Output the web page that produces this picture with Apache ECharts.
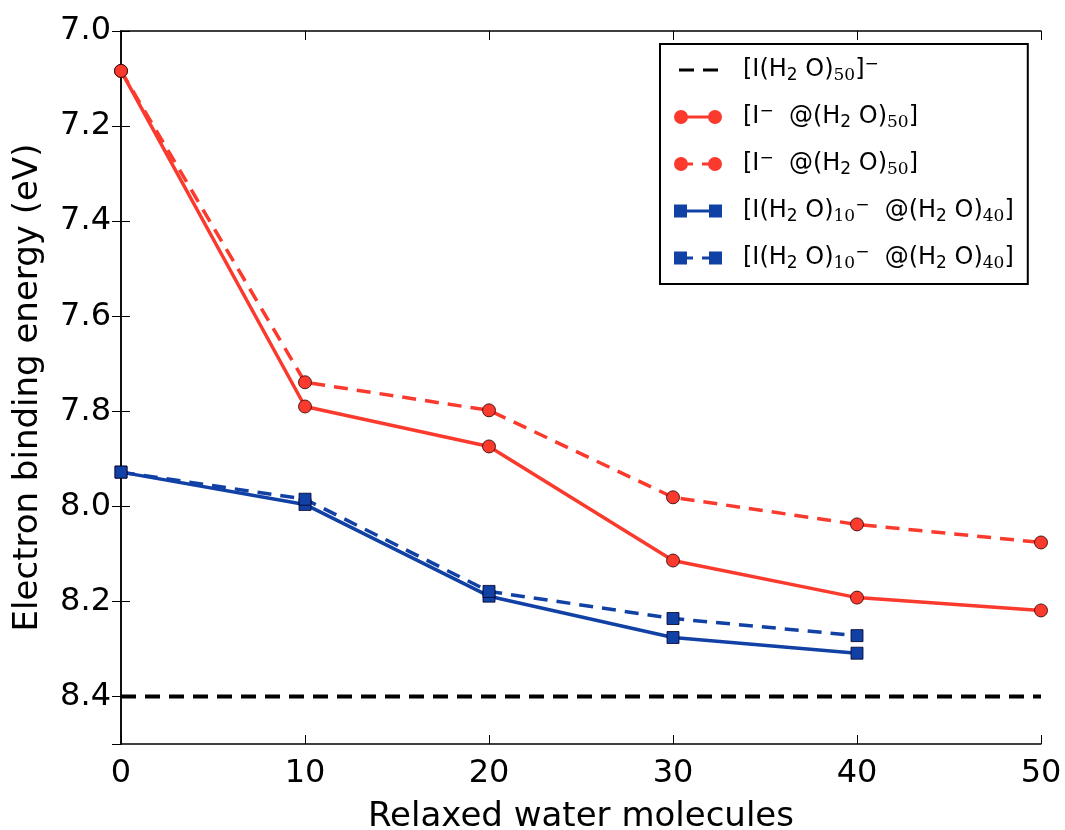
<!DOCTYPE html>
<html>
<head>
<meta charset="utf-8">
<script src="https://cdn.jsdelivr.net/npm/echarts@6/dist/echarts.min.js"></script>
<style>
  html, body { margin: 0; padding: 0; background: #fff; }
  #chart { width: 1065px; height: 830px; }
</style>
</head>
<body>
<div id="chart"></div>
<script>
// relaxed water molecules
const waterX = [0, 10, 20, 30, 40, 50]
const waterXBlue = [0, 10, 20, 30, 40]
const refX = [0, 50]

// electron binding energies (eV)
const refY = [8.4, 8.4]
const redSolid = [7.084, 7.79, 7.874, 8.114, 8.192, 8.219]
const redDashed = [7.084, 7.739, 7.798, 7.981, 8.038, 8.076]
const blueSolid = [7.928, 7.996, 8.189, 8.276, 8.309]
const blueDashed = [7.928, 7.985, 8.179, 8.236, 8.272]

const seriesNames = ['ref', 'redSolid', 'redDashed', 'blueSolid', 'blueDashed']
const legendLabels = [
  '{t|[I(H}{s2|2}{t| O)}{s|50}{t|]}{p|−}',
  '{t|[I}{p|−}{t|  @(H}{s2|2}{t| O)}{s|50}{t|]}',
  '{t|[I}{p|−}{t|  @(H}{s2|2}{t| O)}{s|50}{t|]}',
  '{t|[I(H}{s2|2}{t| O)}{s|10}{p|−}{t|  @(H}{s2|2}{t| O)}{s|40}{t|]}',
  '{t|[I(H}{s2|2}{t| O)}{s|10}{p|−}{t|  @(H}{s2|2}{t| O)}{s|40}{t|]}'
]

const RED = '#fb3a2e'
const BLUE = '#1241a6'
const EDGE = 'rgba(40,0,0,0.8)'

const circ = (cx) => 'M' + (cx - 7) + ',7A7,7,0,1,1,' + (cx + 7) + ',7A7,7,0,1,1,' + (cx - 7) + ',7Z'
const sq = (x) => 'M' + x + ',0.5L' + (x + 13) + ',0.5L' + (x + 13) + ',13.5L' + x + ',13.5Z'
const bar = (a, b) => 'M' + a + ',5.5L' + b + ',5.5L' + b + ',8.5L' + a + ',8.5Z'
const bounds = 'M0,0L0,0.01L0.01,0Z M48,14L48,13.99L47.99,14Z '
const icons = [
  'path://' + bounds + bar(5, 20) + ' ' + bar(29, 44),
  'path://' + circ(7) + ' ' + bar(7, 41) + ' ' + circ(41),
  'path://' + circ(7) + ' ' + bar(7, 19) + ' ' + bar(28, 41) + ' ' + circ(41),
  'path://' + bounds + sq(0) + ' ' + bar(7, 41) + ' ' + sq(35),
  'path://' + bounds + sq(0) + ' ' + bar(7, 19) + ' ' + bar(28, 41) + ' ' + sq(35)
]

const pairs = (xs, ys) => ys.map((y, i) => [xs[i], y])

const axisFont = { fontFamily: 'DejaVu Sans', fontSize: 32, color: '#000' }
const nameFont = { fontFamily: 'DejaVu Sans', fontSize: 34, color: '#000' }
const lineAxis = { show: true, lineStyle: { color: '#000', width: 1.5 } }
const tickIn = { show: true, inside: true, length: 9, lineStyle: { color: '#000', width: 1 } }

const option = {
  animation: false,
  backgroundColor: '#fff',
  grid: { left: 121, right: 24, top: 31, bottom: 86, outerBoundsMode: 'none', containLabel: false },
  legend: {
    orient: 'vertical',
    left: 660,
    top: 44,
    padding: [12, 14, 12, 14],
    itemGap: 19,
    itemWidth: 48,
    itemHeight: 14,
    borderColor: '#000',
    borderWidth: 2,
    backgroundColor: '#fff',
    selectedMode: false,
    data: seriesNames.map((n, i) => ({
      name: n,
      icon: icons[i],
      itemStyle: { color: [ '#000', RED, RED, BLUE, BLUE ][i], borderWidth: 0 }
    })),
    formatter: name => legendLabels[seriesNames.indexOf(name)],
    textStyle: {
      padding: [0, 0, 0, 16],
      rich: {
        t: { fontFamily: 'DejaVu Sans', fontSize: 24, color: '#000', lineHeight: 28 },
        s2: { fontFamily: 'DejaVu Sans', fontSize: 17, color: '#000', lineHeight: 18, verticalAlign: 'bottom' },
        s: { fontFamily: 'DejaVu Serif', fontSize: 17, color: '#000', lineHeight: 18, verticalAlign: 'bottom' },
        p: { fontFamily: 'DejaVu Sans', fontSize: 17, color: '#000', lineHeight: 16, verticalAlign: 'top' }
      }
    }
  },
  xAxis: [
    {
      type: 'value', min: 0, max: 50, interval: 10,
      name: 'Relaxed water molecules', nameLocation: 'middle', nameGap: 56,
      nameTextStyle: nameFont,
      axisLine: lineAxis, axisTick: tickIn,
      axisLabel: Object.assign({ margin: 14 }, axisFont),
      splitLine: { show: false }
    },
    {
      type: 'value', min: 0, max: 50, interval: 10, position: 'top',
      axisLine: lineAxis, axisTick: tickIn,
      axisLabel: { show: false }, splitLine: { show: false }
    }
  ],
  yAxis: [
    {
      type: 'value', min: 7.0, max: 8.5, interval: 0.2, inverse: true,
      name: 'Electron binding energy (eV)', nameLocation: 'middle', nameGap: 76,
      nameTextStyle: nameFont,
      axisLine: lineAxis, axisTick: tickIn,
      axisLabel: Object.assign({
        margin: 10,
        showMaxLabel: false,
        formatter: v => v.toFixed(1)
      }, axisFont),
      splitLine: { show: false }
    },
    {
      type: 'value', min: 7.0, max: 8.5, interval: 0.2, inverse: true, position: 'right',
      axisLine: lineAxis, axisTick: tickIn,
      axisLabel: { show: false }, splitLine: { show: false }
    }
  ],
  series: [
    {
      name: 'ref', type: 'line', symbol: 'none',
      lineStyle: { color: '#000', width: 4, type: [15, 9] },
      itemStyle: { color: '#000' },
      data: pairs(refX, refY)
    },
    {
      name: 'redSolid', type: 'line', symbol: 'circle', symbolSize: 13,
      lineStyle: { color: RED, width: 3.5 },
      itemStyle: { color: RED, borderColor: EDGE, borderWidth: 1 },
      data: pairs(waterX, redSolid)
    },
    {
      name: 'redDashed', type: 'line', symbol: 'circle', symbolSize: 13,
      lineStyle: { color: RED, width: 3.5, type: [14, 9] },
      itemStyle: { color: RED, borderColor: EDGE, borderWidth: 1 },
      data: pairs(waterX, redDashed)
    },
    {
      name: 'blueSolid', type: 'line', symbol: 'rect', symbolSize: 12,
      lineStyle: { color: BLUE, width: 3.5 },
      itemStyle: { color: BLUE, borderColor: 'rgba(0,0,40,0.8)', borderWidth: 1 },
      data: pairs(waterXBlue, blueSolid)
    },
    {
      name: 'blueDashed', type: 'line', symbol: 'rect', symbolSize: 12,
      lineStyle: { color: BLUE, width: 3.5, type: [14, 9] },
      itemStyle: { color: BLUE, borderColor: 'rgba(0,0,40,0.8)', borderWidth: 1 },
      data: pairs(waterXBlue, blueDashed)
    }
  ]
}

const chart = echarts.init(document.getElementById('chart'), null, { renderer: 'canvas' })
chart.setOption(option)
</script>
</body>
</html>
